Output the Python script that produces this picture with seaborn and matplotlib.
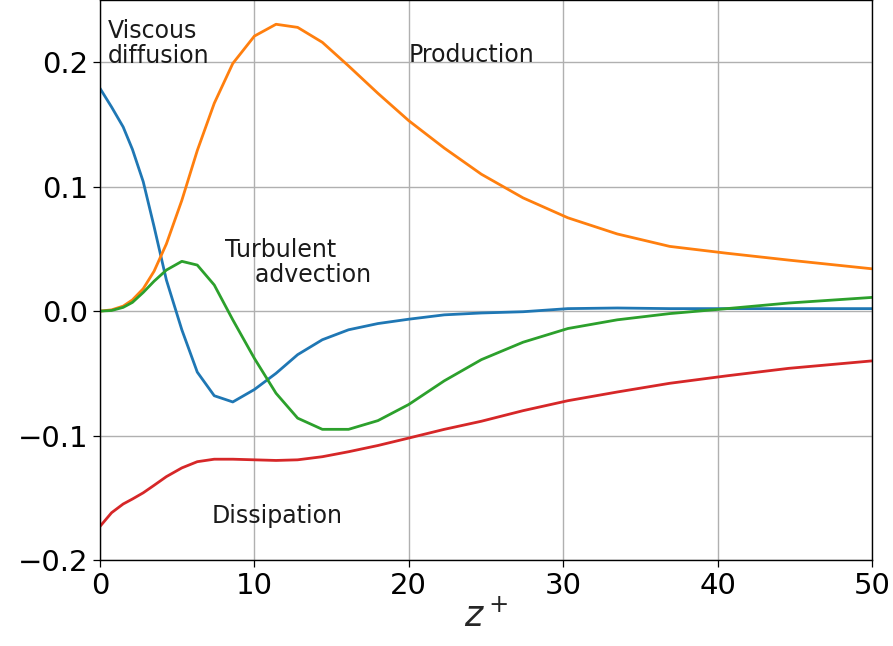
import matplotlib
matplotlib.use("Agg")
import matplotlib.pyplot as plt
import numpy as np
import pandas as pd
import seaborn as sns

# wall-normal coordinate z+
z = [0, 0.75, 1.5, 2.1, 2.8, 3.5, 4.3, 5.3, 6.3, 7.4, 8.6, 10.0, 11.4, 12.8,
     14.4, 16.1, 18.0, 20.0, 22.3, 24.7, 27.4, 30.3, 33.5, 36.9, 40.6, 44.6, 50.0]

# budget terms
viscous_diffusion = [0.179, 0.164, 0.148, 0.130, 0.104, 0.068, 0.025, -0.015,
                     -0.049, -0.068, -0.073, -0.063, -0.050, -0.035, -0.023,
                     -0.015, -0.010, -0.0065, -0.003, -0.0015, -0.0005, 0.002,
                     0.0025, 0.002, 0.002, 0.002, 0.002]
production = [0.0, 0.001, 0.004, 0.009, 0.018, 0.032, 0.054, 0.089, 0.129,
              0.167, 0.199, 0.221, 0.2305, 0.228, 0.216, 0.197, 0.175, 0.153,
              0.131, 0.110, 0.091, 0.075, 0.062, 0.052, 0.0465, 0.041, 0.034]
turbulent_advection = [0.0, 0.0005, 0.003, 0.007, 0.015, 0.024, 0.033, 0.040,
                       0.037, 0.021, -0.007, -0.038, -0.066, -0.086, -0.095,
                       -0.095, -0.088, -0.075, -0.056, -0.039, -0.025, -0.014,
                       -0.007, -0.002, 0.002, 0.0065, 0.011]
dissipation = [-0.173, -0.162, -0.155, -0.151, -0.146, -0.140, -0.133, -0.126,
               -0.121, -0.119, -0.119, -0.1195, -0.120, -0.1195, -0.117, -0.113,
               -0.108, -0.102, -0.095, -0.0885, -0.080, -0.072, -0.065, -0.058,
               -0.052, -0.046, -0.040]

terms = ["Viscous diffusion", "Production", "Turbulent advection", "Dissipation"]
series = [viscous_diffusion, production, turbulent_advection, dissipation]

x_ticks = [0, 10, 20, 30, 40, 50]
y_ticks = [-0.2, -0.1, 0.0, 0.1, 0.2]
y_tick_labels = ["\u22120.2", "\u22120.1", "0.0", "0.1", "0.2"]

df = pd.concat(
    [pd.DataFrame({"z": z, "value": v, "term": t}) for t, v in zip(terms, series)],
    ignore_index=True,
)

sns.set_style("ticks")
plt.rcParams["font.family"] = ["DejaVu Sans"]
plt.rcParams["mathtext.fontset"] = "dejavusans"

fig = plt.figure(figsize=(8.93, 6.46), dpi=100)
ax = fig.add_axes([100 / 893, 86 / 646, 772 / 893, 560 / 646])

sns.lineplot(data=df, x="z", y="value", hue="term", hue_order=terms,
             palette=["#1f77b4", "#ff7f0e", "#2ca02c", "#d62728"],
             estimator=None, sort=False, legend=False, linewidth=2.0, ax=ax)

ax.set_xlim(0, 50)
ax.set_ylim(-0.2, 0.25)
ax.set_xticks(x_ticks)
ax.set_yticks(y_ticks)
ax.set_yticklabels(y_tick_labels)
ax.tick_params(axis="both", labelsize=21, direction="out", length=5,
               width=0.9, color="black", labelcolor="black")
ax.grid(True, color="#b0b0b0", linewidth=1.0)
ax.set_axisbelow(True)
for sp in ax.spines.values():
    sp.set_visible(True)
    sp.set_color("black")
    sp.set_linewidth(1.0)

ax.set_xlabel("$z^+$", fontsize=25, labelpad=-1)
ax.set_ylabel("")

txt = dict(fontsize=17, color="#1a1a1a")
ax.text(0.5, 0.1955, "Viscous\ndiffusion", va="bottom", linespacing=1.05, **txt)
ax.text(20.0, 0.2, "Production", **txt)
ax.text(8.1, 0.0195, "Turbulent\n    advection", va="bottom", linespacing=1.05, **txt)
ax.text(7.2, -0.1705, "Dissipation", **txt)

fig.savefig("out.png", dpi=100)
